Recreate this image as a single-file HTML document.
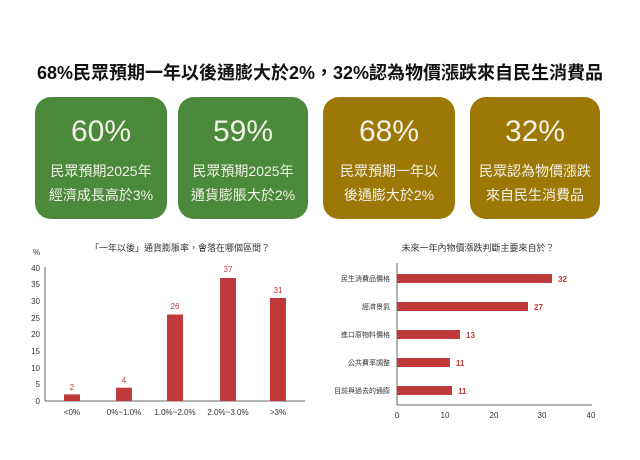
<!DOCTYPE html>
<html><head><meta charset="utf-8"><style>
body{margin:0;background:#fff;width:640px;height:460px;overflow:hidden}
svg{display:block}
text{font-family:"Liberation Sans","Noto Sans CJK TC",sans-serif}
</style></head><body>
<svg width="640" height="460" viewBox="0 0 640 460">
<text x="320" y="79" text-anchor="middle" font-size="18" font-weight="bold" fill="#111">68%民眾預期一年以後通膨大於2%，32%認為物價漲跌來自民生消費品</text>
<g fill="#fff" text-anchor="middle">
<rect x="35" y="97" width="132" height="122" rx="16" fill="#4b893b"/>
<text x="101" y="141" font-size="30" fill="#f2f2e8">60%</text>
<text x="101" y="176" font-size="14" fill="#f2f2e8">民眾預期2025年</text>
<text x="101" y="200" font-size="14" fill="#f2f2e8">經濟成長高於3%</text>
<rect x="178" y="97" width="130" height="122" rx="16" fill="#4b893b"/>
<text x="243" y="141" font-size="30" fill="#f2f2e8">59%</text>
<text x="243" y="176" font-size="14" fill="#f2f2e8">民眾預期2025年</text>
<text x="243" y="200" font-size="14" fill="#f2f2e8">通貨膨脹大於2%</text>
<rect x="323" y="97" width="132" height="122" rx="16" fill="#9e7806"/>
<text x="389" y="141" font-size="30" fill="#f2f2e8">68%</text>
<text x="389" y="176" font-size="14" fill="#f2f2e8">民眾預期一年以</text>
<text x="389" y="200" font-size="14" fill="#f2f2e8">後通膨大於2%</text>
<rect x="470" y="97" width="130" height="122" rx="16" fill="#9e7806"/>
<text x="535" y="141" font-size="30" fill="#f2f2e8">32%</text>
<text x="535" y="176" font-size="14" fill="#f2f2e8">民眾認為物價漲跌</text>
<text x="535" y="200" font-size="14" fill="#f2f2e8">來自民生消費品</text>
</g>
<!-- left chart -->
<g font-size="8" fill="#333">
<text x="180" y="251" text-anchor="middle" font-size="9">「一年以後」通貨膨脹率，會落在哪個區間？</text>
<text x="33" y="255">%</text>
<line x1="45" y1="267" x2="45" y2="401" stroke="#666"/>
<line x1="45" y1="401" x2="305" y2="401" stroke="#666"/>
<g text-anchor="end">
<text x="40" y="404">0</text><text x="40" y="387">5</text><text x="40" y="371">10</text><text x="40" y="354">15</text>
<text x="40" y="337">20</text><text x="40" y="321">25</text><text x="40" y="304">30</text><text x="40" y="287">35</text><text x="40" y="271">40</text>
</g>
<g fill="#c0393b">
<rect x="64" y="394.4" width="16" height="6.6"/>
<rect x="116" y="387.7" width="16" height="13.3"/>
<rect x="167" y="314.5" width="16" height="86.5"/>
<rect x="220" y="278" width="16" height="123"/>
<rect x="270" y="298" width="16" height="103"/>
</g>
<g fill="#c0393b" text-anchor="middle">
<text x="72" y="390">2</text><text x="124" y="383">4</text><text x="175" y="309">26</text><text x="228" y="272">37</text><text x="278" y="293">31</text>
</g>
<g text-anchor="middle">
<text x="72" y="415">&lt;0%</text><text x="124" y="415">0%~1.0%</text><text x="175" y="415">1.0%~2.0%</text><text x="228" y="415">2.0%~3.0%</text><text x="278" y="415">&gt;3%</text>
</g>
</g>
<!-- right chart -->
<g font-size="8" fill="#333">
<text x="478" y="251" text-anchor="middle" font-size="9">未來一年內物價漲跌判斷主要來自於？</text>
<line x1="397" y1="263" x2="397" y2="405" stroke="#666"/>
<line x1="397" y1="405" x2="592" y2="405" stroke="#666"/>
<g fill="#c0393b">
<rect x="397" y="274" width="155" height="9"/>
<rect x="397" y="302" width="131" height="9"/>
<rect x="397" y="330" width="63" height="9"/>
<rect x="397" y="358" width="53" height="9"/>
<rect x="397" y="386" width="55" height="9"/>
</g>
<g fill="#c0393b" font-weight="bold">
<text x="558" y="282">32</text><text x="534" y="310">27</text><text x="466" y="338">13</text><text x="456" y="366">11</text><text x="458" y="394">11</text>
</g>
<g text-anchor="end" font-size="7">
<text x="390" y="281">民生消費品價格</text><text x="390" y="309">經濟景氣</text><text x="390" y="337">進口原物料價格</text><text x="390" y="365">公共費率調整</text><text x="390" y="393">目前與過去的通膨</text>
</g>
<g text-anchor="middle">
<text x="397" y="418">0</text><text x="445" y="418">10</text><text x="494" y="418">20</text><text x="542" y="418">30</text><text x="591" y="418">40</text>
</g>
</g>
</svg>
</body></html>
